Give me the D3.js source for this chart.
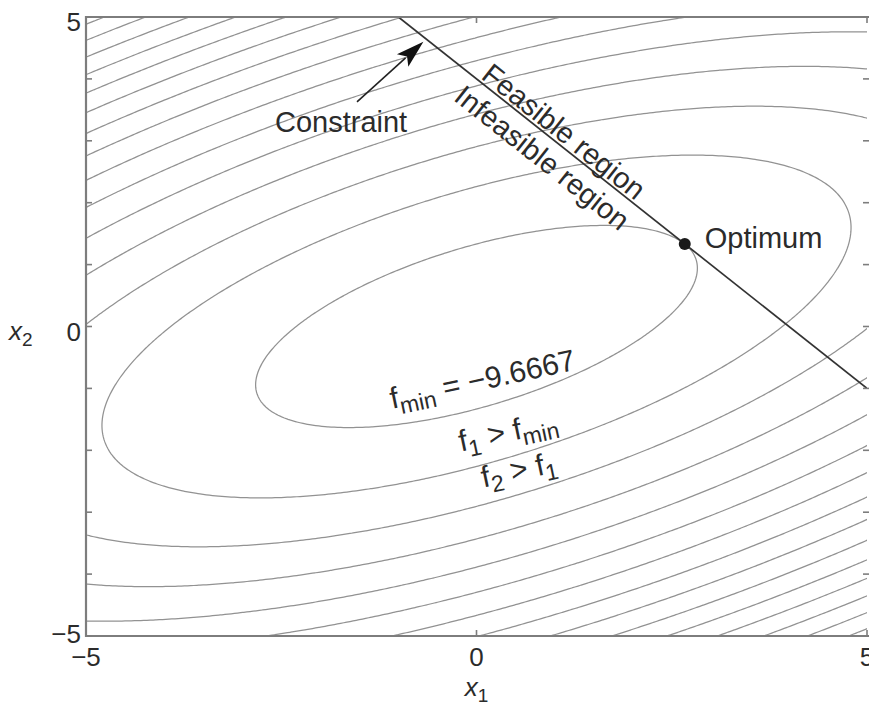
<!DOCTYPE html>
<html><head><meta charset="utf-8">
<script src="https://cdn.jsdelivr.net/npm/d3@7"></script>
<style>body{margin:0;background:#fff}svg{display:block}</style>
</head><body>
<svg id="chart" width="869" height="706"></svg>
<script>
// ---- data ----
const quadCoefs = [1, -2, 3];          // coefficients of x1^2, x1*x2, x2^2
const constTerm = [-15];               // constant term of f
const constraintCoefs = [1, 1, 4];     // x1 + x2 = 4
const optimumPoint = [8/3, 4/3];
const fMinValue = [-9.6667];
const levelIndex = [0,1,2,3,4,5,6,7,8,9,10,11,12,13,14];
const levelStep = [10];
const xTickValues = [-5, 0, 5];
const xTickLabels = ["\u22125", "0", "5"];
const yTickValues = [-5,-4,-3,-2,-1,0,1,2,3,4,5];
const yTickLabels = ["\u22125","","","","","0","","","","","5"];
// annotation anchors (data coordinates)
const arrowTail = [-1.53, 3.63];
const arrowTip = [-0.68, 4.60];
const constraintLabelPos = [-2.58, 3.15];
const fminLabelPos = [-1.08, -1.33];
const f1LabelPos = [-0.2, -2.02];
const f2LabelPos = [0.09, -2.60];

const svg = d3.select("#chart");
svg.append("rect").attr("width",869).attr("height",706).attr("fill","#fff");

const x = d3.scaleLinear().domain([-5,5]).range([86,867]);
const y = d3.scaleLinear().domain([-5,5]).range([636,17]);

const f = (a,b) => quadCoefs[0]*a*a + quadCoefs[1]*a*b + quadCoefs[2]*b*b + constTerm[0];

// grid
const lo = -5.3, hi = 5.3, N = 266;
const step = (hi-lo)/(N-1);
const vals = new Array(N*N);
for (let j=0;j<N;j++) for (let i=0;i<N;i++) vals[i+j*N] = f(lo+i*step, hi-j*step);
const thresholds = levelIndex.map(k => fMinValue[0] + levelStep[0]*k);
const contours = d3.contours().size([N,N]).thresholds(thresholds)(vals);

const proj = d3.geoTransform({point: function(cx, cy){
  this.stream.point(x(lo + (cx-0.5)*step), y(hi - (cy-0.5)*step));
}});
const path = d3.geoPath(proj);

svg.append("defs").append("clipPath").attr("id","clip")
  .append("rect").attr("x",x(-5)).attr("y",y(5)).attr("width",x(5)-x(-5)).attr("height",y(-5)-y(5));

const plot = svg.append("g").attr("clip-path","url(#clip)");
plot.selectAll("path.c").data(contours).join("path").attr("class","c")
  .attr("d", path).attr("fill","none").attr("stroke","#929292").attr("stroke-width",1.25);

// constraint line x1 + x2 = 4
const [ca, cb, cc] = constraintCoefs;
const cLine = [[(cc - cb*5)/ca, 5], [5, (cc - ca*5)/cb]];
plot.append("line")
  .attr("x1", x(cLine[0][0])).attr("y1", y(cLine[0][1]))
  .attr("x2", x(cLine[1][0])).attr("y2", y(cLine[1][1]))
  .attr("stroke","#333").attr("stroke-width",1.7);

// frame and ticks
const frameCol = "#7d7d7d";
const fr = svg.append("g").attr("stroke",frameCol).attr("stroke-width",2.2).attr("fill","none");
fr.append("line").attr("x1",x(-5)).attr("x2",x(-5)).attr("y1",y(5)-1).attr("y2",y(-5)+1);
fr.append("line").attr("x1",x(-5)-1).attr("x2",x(5)+3).attr("y1",y(-5)).attr("y2",y(-5));
fr.append("line").attr("x1",x(-5)-1).attr("x2",x(5)+3).attr("y1",y(5)).attr("y2",y(5));
const tk = svg.append("g").attr("stroke",frameCol).attr("stroke-width",1.6);
yTickValues.forEach(v => {
  tk.append("line").attr("x1",x(-5)).attr("x2",x(-5)+6).attr("y1",y(v)).attr("y2",y(v));
  tk.append("line").attr("x1",x(5)+2).attr("x2",x(5)-4).attr("y1",y(v)).attr("y2",y(v));
});
xTickValues.forEach(v => {
  tk.append("line").attr("x1",x(v)).attr("x2",x(v)).attr("y1",y(-5)).attr("y2",y(-5)-6);
  tk.append("line").attr("x1",x(v)).attr("x2",x(v)).attr("y1",y(5)).attr("y2",y(5)+6);
});

const font = "'Liberation Sans', Arial, Helvetica, sans-serif";
const txtCol = "#2b2b2b";
const T = svg.append("g").attr("font-family",font).attr("fill",txtCol);

// tick labels
yTickValues.forEach((v,i) => {
  if (!yTickLabels[i]) return;
  const dy = v === -5 ? 7 : 14;
  T.append("text").attr("x",81).attr("y",y(v)+dy).attr("text-anchor","end")
    .attr("font-size",26).text(yTickLabels[i]);
});
xTickValues.forEach((v,i) => {
  T.append("text").attr("x",x(v)).attr("y",y(-5)+30).attr("text-anchor","middle")
    .attr("font-size",26).text(xTickLabels[i]);
});
// axis labels
const xl = T.append("text").attr("x",x(0)).attr("y",696).attr("text-anchor","middle").attr("font-size",26);
xl.append("tspan").attr("font-style","italic").text("x");
xl.append("tspan").attr("font-size",19).attr("dy",6).text("1");
const yl = T.append("text").attr("x",9).attr("y",340).attr("font-size",26);
yl.append("tspan").attr("font-style","italic").text("x");
yl.append("tspan").attr("font-size",19).attr("dy",6).text("2");

// optimum marker
svg.append("circle").attr("cx",x(optimumPoint[0])).attr("cy",y(optimumPoint[1])).attr("r",6).attr("fill","#1a1a1a");
T.append("text").attr("x",x(optimumPoint[0])+20).attr("y",y(optimumPoint[1])+4).attr("font-size",29).text("Optimum");

// constraint annotation and arrow
T.append("text").attr("x",x(constraintLabelPos[0])).attr("y",y(constraintLabelPos[1])).attr("font-size",29).text("Constraint");
{
  const x0 = x(arrowTail[0]), y0 = y(arrowTail[1]), x1 = x(arrowTip[0]), y1 = y(arrowTip[1]);
  const L = Math.hypot(x1-x0, y1-y0), ux = (x1-x0)/L, uy = (y1-y0)/L;
  const hl = 28, hw = 8.5;
  const bx = x1 - ux*hl, by = y1 - uy*hl;
  svg.append("line").attr("x1",x0).attr("y1",y0).attr("x2",bx+ux*4).attr("y2",by+uy*4)
    .attr("stroke","#222").attr("stroke-width",1.6);
  svg.append("path").attr("d",`M${x1},${y1}L${bx - uy*hw},${by + ux*hw}L${bx+ux*6},${by+uy*6}L${bx + uy*hw},${by - ux*hw}Z`)
    .attr("fill","#111");
}

// region labels along constraint
{
  const px0 = x(cLine[0][0]), py0 = y(cLine[0][1]), px1 = x(cLine[1][0]), py1 = y(cLine[1][1]);
  const ang = Math.atan2(py1-py0, px1-px0);
  const deg = ang*180/Math.PI;
  const ux = Math.cos(ang), uy = Math.sin(ang), nx = -uy, ny = ux; // n points down-left
  const ax = x(0), ay = y((cc - ca*0)/cb);
  const fx = ax + ux*2 - nx*3, fy = ay + uy*2 - ny*3;
  T.append("text").attr("transform",`translate(${fx},${fy}) rotate(${deg})`).attr("font-size",29).text("Feasible region");
  const ix = ax - ux*6 + nx*31, iy = ay - uy*6 + ny*31;
  T.append("text").attr("transform",`translate(${ix},${iy}) rotate(${deg})`).attr("font-size",29).text("Infeasible region");
}

// level labels
function subLabel(pos, parts){
  const t = T.append("text").attr("transform",`translate(${x(pos[0])},${y(pos[1])}) rotate(-12)`).attr("font-size",30);
  parts.forEach(p => {
    t.append("tspan").attr("font-size", p.sub ? 23 : 30).attr("dy", p.sub ? 7 : (p.up ? -7 : 0)).text(p.t);
  });
}
subLabel(fminLabelPos, [{t:"f"},{t:"min",sub:true},{t:" = \u22129.6667",up:true}]);
subLabel(f1LabelPos, [{t:"f"},{t:"1",sub:true},{t:" > f",up:true},{t:"min",sub:true}]);
subLabel(f2LabelPos, [{t:"f"},{t:"2",sub:true},{t:" > f",up:true},{t:"1",sub:true}]);
</script>
</body></html>
